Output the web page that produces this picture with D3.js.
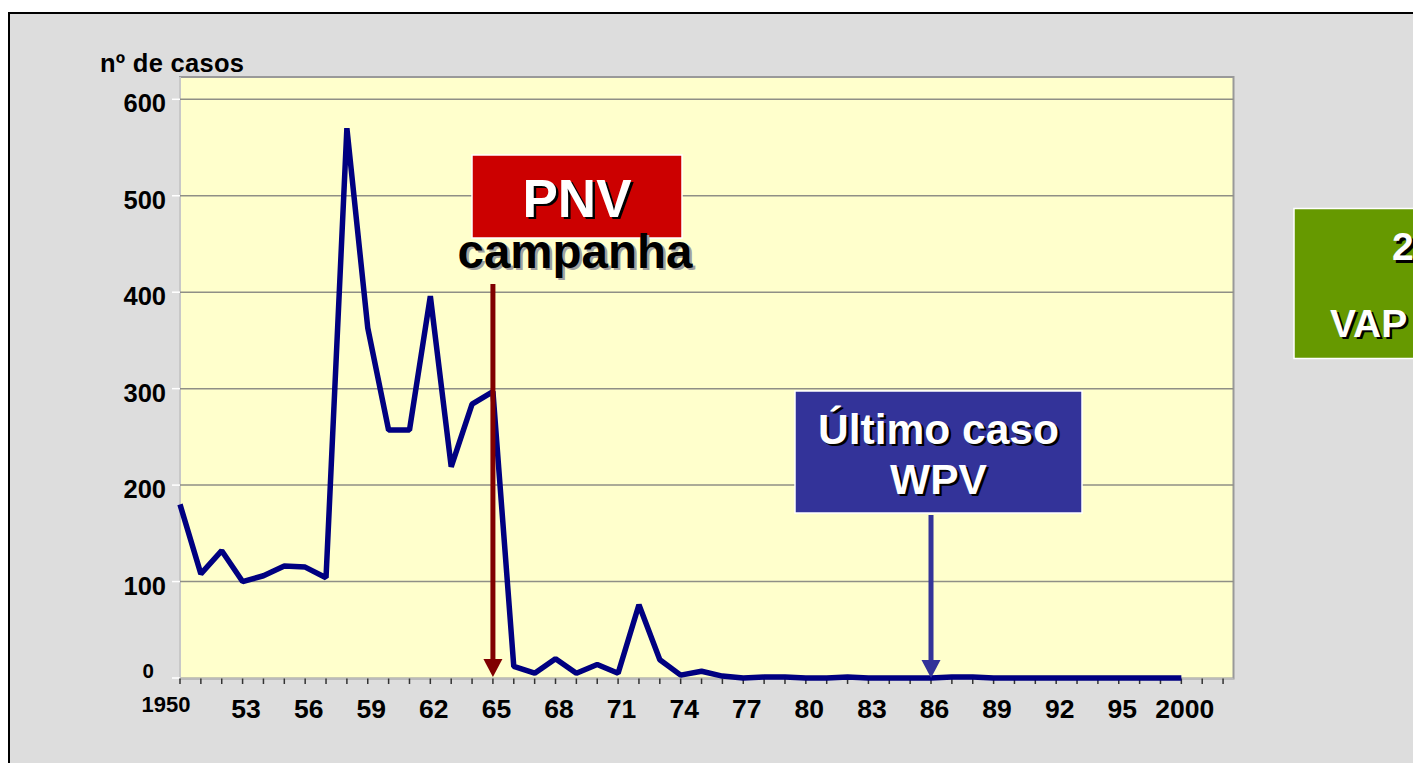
<!DOCTYPE html>
<html>
<head>
<meta charset="utf-8">
<script src="https://cdnjs.cloudflare.com/ajax/libs/d3/7.8.5/d3.min.js"></script>
<style>
  html, body { margin: 0; padding: 0; background: #fff; overflow: hidden; }
  text { font-family: Arial, "Liberation Sans", sans-serif; font-weight: bold; }
</style>
</head>
<body>
<div id="chart"></div>
<script>
// cases per year, 1950 - 1998
var years = d3.range(1950, 1999);
var cases = [180, 108, 132, 100, 106, 116, 115, 104, 570, 363,
             257, 257, 396, 219, 284, 297, 12, 5, 20, 5,
             14, 5, 76, 19, 3, 7, 2, 0, 1, 1,
             0, 0, 1, 0, 0, 0, 0, 1, 1, 0,
             0, 0, 0, 0, 0, 0, 0, 0, 0];

var yTicks = [0, 100, 200, 300, 400, 500, 600];
var xLabelYears = [1950, 1953, 1956, 1959, 1962, 1965, 1968, 1971, 1974, 1977, 1980, 1983, 1986, 1989, 1992, 1995, 1998];
var xLabels = ["1950", "53", "56", "59", "62", "65", "68", "71", "74", "77", "80", "83", "86", "89", "92", "95", "2000"];

var W = 1413, H = 763;
var plot = {left: 180, top: 77, right: 1233.5, bottom: 678.5};

var svg = d3.select("#chart").append("svg")
  .attr("width", W).attr("height", H);

// frame
svg.append("rect").attr("width", W).attr("height", H).attr("fill", "#fff");
svg.append("rect")
  .attr("x", 9).attr("y", 13).attr("width", W + 20).attr("height", H + 20)
  .attr("fill", "#dddddd").attr("stroke", "#000").attr("stroke-width", 2);

var x = d3.scaleLinear().domain([1950, 2000.5]).range([plot.left, plot.right]);
var y = d3.scaleLinear().domain([0, 600]).range([678, 99.3]);

svg.append("rect")
  .attr("x", plot.left).attr("y", plot.top)
  .attr("width", plot.right - plot.left).attr("height", plot.bottom - plot.top)
  .attr("fill", "#ffffcc").attr("stroke", "#999").attr("stroke-width", 2);
svg.append("line")
  .attr("x1", plot.left).attr("x2", plot.left)
  .attr("y1", plot.top).attr("y2", plot.bottom)
  .attr("stroke", "#c8c8c8").attr("stroke-width", 2);

// grid
svg.append("g").selectAll("line")
  .data(yTicks.filter(function(d) { return d > 0; }))
  .join("line")
  .attr("x1", plot.left).attr("x2", plot.right)
  .attr("y1", function(d) { return y(d); }).attr("y2", function(d) { return y(d); })
  .attr("stroke", "#8f8f86").attr("stroke-width", 1.5);

// y axis ticks + labels
svg.append("g").selectAll("line")
  .data(yTicks)
  .join("line")
  .attr("x1", 172).attr("x2", plot.left)
  .attr("y1", function(d) { return y(d); }).attr("y2", function(d) { return y(d); })
  .attr("stroke", "#fff").attr("stroke-width", 1.5);

svg.append("g").selectAll("text")
  .data(yTicks)
  .join("text")
  .attr("text-anchor", "end")
  .attr("x", function(d) { return d == 0 ? 154 : 166; })
  .attr("y", function(d) { return d == 0 ? y(d) : y(d) + 13; })
  .attr("font-size", function(d) { return d == 0 ? 20.5 : 25.5; })
  .text(function(d) { return d; });

svg.append("text")
  .attr("x", 100).attr("y", 71.5)
  .attr("font-size", 25.5)
  .attr("textLength", 144)
  .text("nº de casos");

// x axis
svg.append("line")
  .attr("x1", plot.left).attr("x2", plot.right)
  .attr("y1", plot.bottom).attr("y2", plot.bottom)
  .attr("stroke", "#bbb").attr("stroke-width", 1.5);
svg.append("g").selectAll("line")
  .data(d3.range(1950, 2001))
  .join("line")
  .attr("x1", function(d) { return x(d); }).attr("x2", function(d) { return x(d); })
  .attr("y1", plot.bottom).attr("y2", plot.bottom + 5.5)
  .attr("stroke", "#333").attr("stroke-width", 1.5);

svg.append("g").selectAll("text")
  .data(xLabelYears)
  .join("text")
  .attr("text-anchor", "middle")
  .attr("x", function(d, i) { return i == 0 ? x(d) - 14 : x(d) + 3.5; })
  .attr("y", function(d, i) { return i == 0 ? 711.5 : 718; })
  .attr("font-size", function(d, i) { return i == 0 ? 22 : 26.5; })
  .text(function(d, i) { return xLabels[i]; });

// series
var line = d3.line()
  .x(function(d, i) { return x(years[i]); })
  .y(function(d) { return y(d); });

svg.append("path")
  .datum(cases)
  .attr("fill", "none")
  .attr("stroke", "#000080")
  .attr("stroke-width", 5.5)
  .attr("stroke-linejoin", "bevel")
  .attr("d", line);

// arrows
function arrow(xp, y1, y2, color) {
  svg.append("line")
    .attr("x1", xp).attr("x2", xp).attr("y1", y1).attr("y2", y2 - 12)
    .attr("stroke", color).attr("stroke-width", 5);
  svg.append("path")
    .attr("d", "M" + (xp - 9.5) + "," + (y2 - 18) + "L" + (xp + 9.5) + "," + (y2 - 18) + "L" + xp + "," + y2 + "Z")
    .attr("fill", color);
}
arrow(x(1965), 284, y(0) - 1, "#800000");
arrow(x(1986), 515, y(0), "#333399");

function shadowText(tx, ty, size, str, fill, shadow, anchor) {
  var g = svg.append("g");
  g.append("text").attr("x", tx + 2.5).attr("y", ty + 2.5)
    .attr("font-size", size).attr("text-anchor", anchor || "middle")
    .attr("fill", shadow).text(str);
  g.append("text").attr("x", tx).attr("y", ty)
    .attr("font-size", size).attr("text-anchor", anchor || "middle")
    .attr("fill", fill).text(str);
}

// PNV box
svg.append("rect")
  .attr("x", 472).attr("y", 155).attr("width", 210).attr("height", 83)
  .attr("fill", "#cc0000").attr("stroke", "#fff").attr("stroke-width", 1.5);
shadowText(577, 216.5, 53, "PNV", "#fff", "#000");
shadowText(575, 267.5, 47.5, "campanha", "#000", "#a0a0a0");

// ultimo caso box
svg.append("rect")
  .attr("x", 795).attr("y", 391).attr("width", 287).attr("height", 122)
  .attr("fill", "#333399").attr("stroke", "#fff").attr("stroke-width", 1.5);
shadowText(938.5, 443.5, 42.5, "Último caso", "#fff", "#000");
shadowText(938.5, 493.5, 42.5, "WPV", "#fff", "#000");

// green box, cut by the page edge
svg.append("rect")
  .attr("x", 1294).attr("y", 208.5).attr("width", 160).attr("height", 150)
  .attr("fill", "#669900").attr("stroke", "#fff").attr("stroke-width", 1.5);
shadowText(1392, 260, 39, "2", "#fff", "#000", "start");
shadowText(1330, 336.5, 39, "VAP", "#fff", "#000", "start");
</script>
</body>
</html>
